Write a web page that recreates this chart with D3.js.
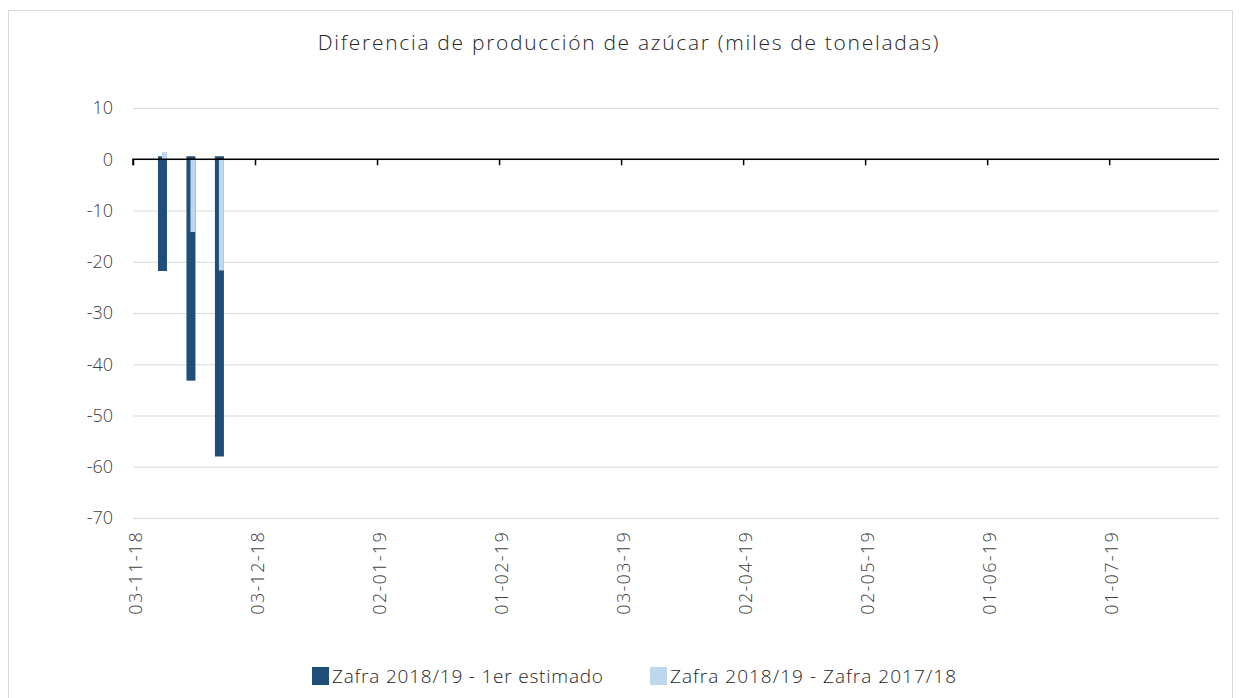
<!DOCTYPE html>
<html>
<head>
<meta charset="utf-8">
<script src="https://cdn.jsdelivr.net/npm/d3@7"></script>
<style>
  body { margin: 0; background: #fff; }
  svg { font-family: "Open Sans", sans-serif; font-weight: 300; }
</style>
</head>
<body>
<div id="chart"></div>
<script>
// data
const dates = ['2018-11-10', '2018-11-17', '2018-11-24'];
const estimado = [-21.8, -43.2, -58.0];       // Zafra 2018/19 - 1er estimado
const vsAnterior = [1.4, -14.2, -21.7];        // Zafra 2018/19 - Zafra 2017/18
const tickDates = ['2018-11-03', '2018-12-03', '2019-01-02', '2019-02-01', '2019-03-03',
  '2019-04-02', '2019-05-02', '2019-06-01', '2019-07-01'];
const yTicks = [10, 0, -10, -20, -30, -40, -50, -60, -70];
const seriesNames = ['Zafra 2018/19 - 1er estimado', 'Zafra 2018/19 - Zafra 2017/18'];
const colors = ['#1f4e79', '#bdd7ee'];

const width = 1241, height = 698;
const parse = d3.utcParse('%Y-%m-%d');
const fmt = d3.utcFormat('%d-%m-%y');

const svg = d3.select('#chart').append('svg')
  .attr('width', width)
  .attr('height', height);

// outer frame
svg.append('rect')
  .attr('x', 8.5).attr('y', 10.5)
  .attr('width', 1224).attr('height', 690)
  .attr('fill', '#fff')
  .attr('stroke', '#d9d9d9');

const x = d3.scaleUtc()
  .domain([parse('2018-11-03'), parse('2019-07-28')])
  .range([133, 1219]);

const y = d3.scaleLinear()
  .domain([-70, 10])
  .range([518, 108]);

// title
svg.append('text')
  .attr('x', 629).attr('y', 50)
  .attr('text-anchor', 'middle')
  .attr('fill', '#262626')
  .style('font-size', '21px')
  .style('letter-spacing', '1.7px')
  .text('Diferencia de producción de azúcar (miles de toneladas)');

// gridlines + y labels
const yAxis = svg.append('g')
  .attr('transform', 'translate(133,0)')
  .call(d3.axisLeft(y).tickValues(yTicks).tickSize(-(1219 - 133)).tickPadding(20)
    .tickFormat(d => String(d)));
yAxis.select('.domain').remove();
yAxis.selectAll('.tick line').attr('stroke', '#d9d9d9');
yAxis.selectAll('.tick text')
  .attr('fill', '#404040')
  .style('font-size', '18px')
  .style('font-family', '"Open Sans", sans-serif');

// bars
const bars = svg.append('g');
const center = d => x(parse(d)) + 1;

bars.selectAll('rect.est')
  .data(dates.map((d, i) => ({ d, v: estimado[i] })))
  .enter().append('rect')
  .attr('class', 'est')
  .attr('x', p => center(p.d) - 4.5)
  .attr('width', 9)
  .attr('y', p => y(Math.max(0, p.v)) - 3)
  .attr('height', p => Math.abs(y(p.v) - y(0)) + 3)
  .attr('fill', colors[0]);

bars.selectAll('rect.ant')
  .data(dates.map((d, i) => ({ d, v: vsAnterior[i] })))
  .enter().append('rect')
  .attr('class', 'ant')
  .attr('x', p => center(p.d) - 0.5)
  .attr('width', 5)
  .attr('y', p => y(Math.max(0, p.v)))
  .attr('height', p => Math.abs(y(p.v) - y(0)))
  .attr('fill', colors[1]);

// x axis at zero
const xAxis = svg.append('g')
  .attr('transform', `translate(0,${y(0)})`)
  .call(d3.axisBottom(x).tickValues(tickDates.map(parse)).tickSize(6).tickFormat(() => ''));
xAxis.select('.domain').attr('stroke', '#000').attr('stroke-width', 1.5)
  .attr('d', `M133,6V0H1219`);
xAxis.selectAll('.tick line').attr('stroke', '#000').attr('stroke-width', 1.5);

// rotated date labels under the plot
svg.append('g').selectAll('text')
  .data(tickDates)
  .enter().append('text')
  .attr('transform', d => `translate(${x(parse(d)) + 9},531) rotate(-90)`)
  .attr('text-anchor', 'end')
  .attr('fill', '#404040')
  .style('font-size', '18px')
  .style('letter-spacing', '1.3px')
  .text(d => fmt(parse(d)));

// legend
const legend = svg.append('g');
const legendX = [312, 650];
const legendLen = [271, 286];
seriesNames.forEach((name, i) => {
  legend.append('rect')
    .attr('x', legendX[i]).attr('y', 667)
    .attr('width', 17).attr('height', 18)
    .attr('fill', colors[i]);
  legend.append('text')
    .attr('x', legendX[i] + 20).attr('y', 683)
    .attr('fill', '#262626')
    .attr('textLength', legendLen[i])
    .attr('lengthAdjust', 'spacing')
    .style('font-size', '19px')
    .text(name);
});
</script>
</body>
</html>
